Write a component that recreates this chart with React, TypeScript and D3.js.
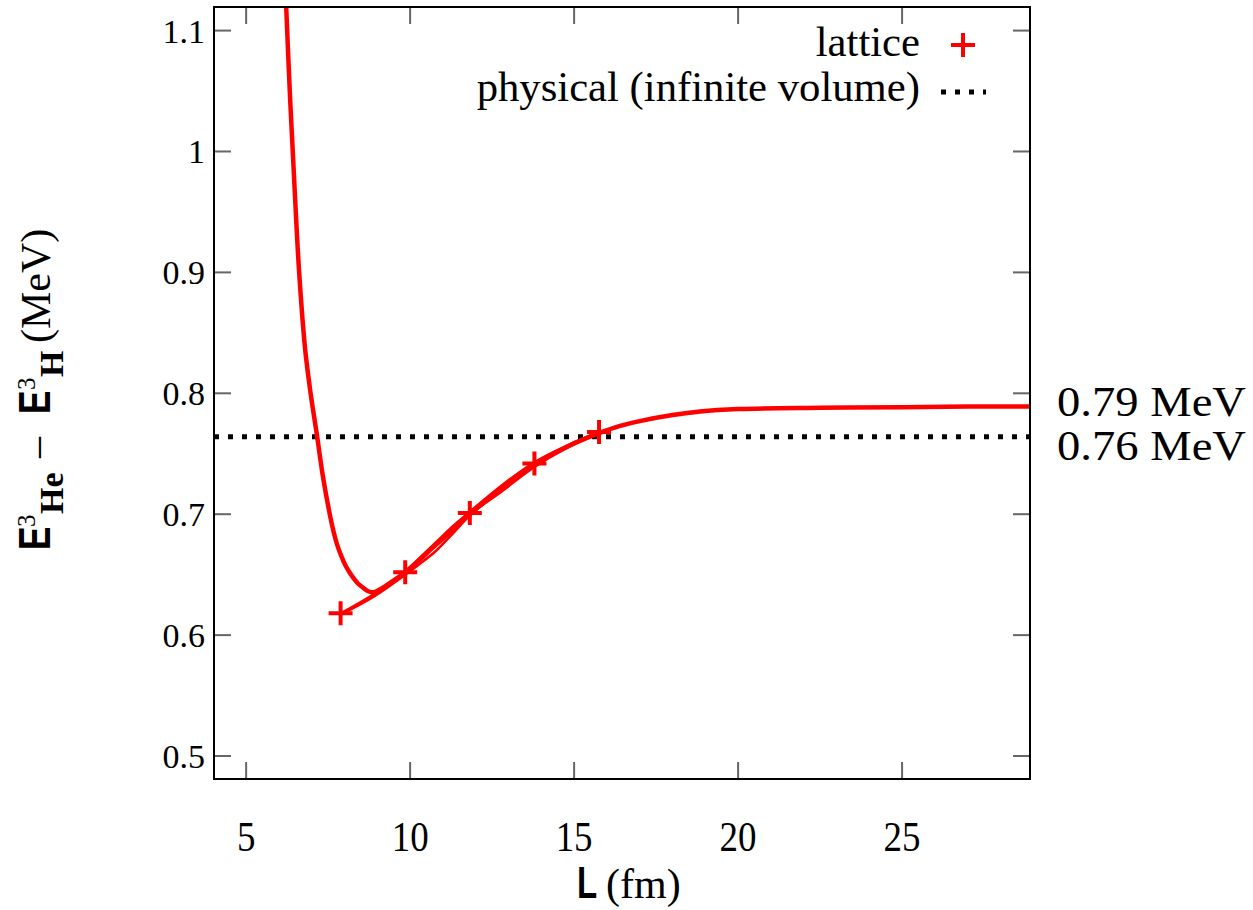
import React from "react";
import * as d3 from "d3";

// ---- data ----
const xTicks = [5, 10, 15, 20, 25];
const yTicks = [0.5, 0.6, 0.7, 0.8, 0.9, 1, 1.1];

// lattice results (L in fm, E in MeV)
const latticeL = [7.88, 9.85, 11.82, 13.79, 15.76];
const latticeE = [0.618, 0.652, 0.701, 0.742, 0.768];

// main fit curve (finite-volume fit)
const fitL = [6.18, 6.22, 6.341, 6.418, 6.494, 6.616, 6.799, 6.966, 7.165, 7.332, 7.546, 7.652, 7.774, 7.896, 8.018, 8.14, 8.262, 8.415, 8.567, 8.72, 8.902, 9.116, 9.39, 9.848, 10.8, 11.82, 12.8, 13.79, 14.8, 15.76, 16.4, 17.0, 18.0, 18.84, 20.0, 22.5, 25.0, 27.0, 29.0];
const fitE = [1.15, 1.1205, 1.0435, 1.002, 0.9605, 0.9002, 0.8364, 0.7999, 0.7643, 0.7328, 0.7005, 0.6872, 0.6748, 0.6657, 0.6582, 0.6524, 0.6475, 0.6425, 0.6392, 0.6363, 0.6355, 0.6384, 0.6433, 0.652, 0.675, 0.700, 0.722, 0.741, 0.756, 0.767, 0.773, 0.777, 0.782, 0.785, 0.787, 0.788, 0.7885, 0.789, 0.789];

// thinner fit lines through the lattice points
const bandL = [7.88, 8.9, 9.85, 10.3, 10.8, 11.3, 11.82, 12.8, 13.79, 14.8, 15.76];
const bandE1 = [0.618, 0.634, 0.652, 0.664, 0.677, 0.690, 0.702, 0.724, 0.743, 0.757, 0.768];
const bandE2 = [0.617, 0.632, 0.650, 0.659, 0.670, 0.684, 0.699, 0.719, 0.739, 0.755, 0.767];

const physicalE = 0.764;
const asymptoteLabels = ["0.79 MeV", "0.76 MeV"];

// ---- layout ----
const W = 1253, H = 910;
const left = 214, right = 1030, top = 7, bottom = 779;

const x = d3.scaleLinear().domain([4.02, 28.9]).range([left, right]);
const y = d3.scaleLinear().domain([0.481, 1.1195]).range([bottom, top]);

const RED = "#ff0000";
const SERIF = "'Liberation Serif', 'Times New Roman', serif";
const SANS = "'Liberation Sans', Arial, sans-serif";

function linePath(ls: number[], es: number[], curve: d3.CurveFactory) {
  const pts = ls.map((l, i) => [l, es[i]] as [number, number]);
  return d3
    .line<[number, number]>()
    .x((d) => x(d[0]))
    .y((d) => y(d[1]))
    .curve(curve)(pts) as string;
}

function Plus({ cx, cy, s = 12 }: { cx: number; cy: number; s?: number }) {
  return (
    <path
      d={`M${cx - s},${cy}H${cx + s}M${cx},${cy - s}V${cy + s}`}
      stroke={RED}
      strokeWidth={4}
      fill="none"
    />
  );
}

export default function App() {
  const tickLen = 17;
  return (
    <svg
      width={W}
      height={H}
      style={{ position: "absolute", left: 0, top: 0, background: "#fff" }}
    >
      <defs>
        <clipPath id="plot">
          <rect x={left} y={top} width={right - left} height={bottom - top} />
        </clipPath>
      </defs>

      {/* ticks (mirrored, inward) */}
      <g stroke="#666" strokeWidth={2}>
        {xTicks.map((t) => (
          <g key={"x" + t}>
            <line x1={x(t)} x2={x(t)} y1={bottom} y2={bottom - tickLen} />
            <line x1={x(t)} x2={x(t)} y1={top} y2={top + tickLen} />
          </g>
        ))}
        {yTicks.map((t) => (
          <g key={"y" + t}>
            <line x1={left} x2={left + tickLen} y1={y(t)} y2={y(t)} />
            <line x1={right} x2={right - tickLen} y1={y(t)} y2={y(t)} />
          </g>
        ))}
      </g>

      {/* tick labels */}
      <g fontFamily={SERIF} fill="#000">
        {xTicks.map((t) => (
          <text
            key={"xl" + t}
            transform={`translate(${x(t)},851) scale(0.86,1)`}
            fontSize={43}
            textAnchor="middle"
          >
            {t}
          </text>
        ))}
        {yTicks.map((t) => (
          <text key={"yl" + t} x={205} y={y(t) + 12} fontSize={34} textAnchor="end">
            {t}
          </text>
        ))}
      </g>

      {/* data */}
      <g clipPath="url(#plot)">
        <line
          x1={left}
          x2={right}
          y1={y(physicalE)}
          y2={y(physicalE)}
          stroke="#000"
          strokeWidth={5}
          strokeDasharray="5 9"
        />
        <path d={linePath(bandL, bandE1, d3.curveMonotoneX)} stroke={RED} strokeWidth={2.5} fill="none" />
        <path d={linePath(bandL, bandE2, d3.curveMonotoneX)} stroke={RED} strokeWidth={2.5} fill="none" />
        <path d={linePath(fitL, fitE, d3.curveCatmullRom.alpha(0.5))} stroke={RED} strokeWidth={4.5} fill="none" />
        {latticeL.map((l, i) => (
          <Plus key={"p" + i} cx={x(l)} cy={y(latticeE[i])} />
        ))}
      </g>

      {/* frame */}
      <rect
        x={left}
        y={top}
        width={right - left}
        height={bottom - top}
        fill="none"
        stroke="#000"
        strokeWidth={2}
      />

      {/* legend */}
      <g fontFamily={SERIF} fontSize={42.7} fill="#000">
        <text x={920} y={56} textAnchor="end">lattice</text>
        <text x={920} y={101} textAnchor="end">physical (infinite volume)</text>
      </g>
      <Plus cx={963} cy={45} />
      <line x1={941} x2={986} y1={92} y2={92} stroke="#000" strokeWidth={5} strokeDasharray="5 9" />

      {/* asymptote labels */}
      <g fontFamily={SERIF} fontSize={42} fill="#000">
        <text x={1057} y={416} textLength={189} lengthAdjust="spacingAndGlyphs">{asymptoteLabels[0]}</text>
        <text x={1057} y={460} textLength={189} lengthAdjust="spacingAndGlyphs">{asymptoteLabels[1]}</text>
      </g>

      {/* x axis label */}
      <text transform="translate(577,898) scale(0.75,1)" fontFamily={SANS} fontWeight="bold" fontSize={44} fill="#000">L</text>
      <text x={606} y={898} fontFamily={SERIF} fontSize={42} fill="#000">(fm)</text>

      {/* y axis label */}
      <g transform="translate(50,550) rotate(-90)" fill="#000">
        <text transform="scale(0.8,1)" fontFamily={SANS} fontWeight="bold" fontSize={44}>E</text>
        <text x={23} y={-15} fontFamily={SERIF} fontSize={25}>3</text>
        <text x={36} y={13} fontFamily={SERIF} fontWeight="bold" fontSize={34}>He</text>
        <text x={92} y={0} fontFamily={SERIF} fontSize={42}>–</text>
        <text transform="translate(136,0) scale(0.8,1)" fontFamily={SANS} fontWeight="bold" fontSize={44}>E</text>
        <text x={160} y={-15} fontFamily={SERIF} fontSize={25}>3</text>
        <text x={173} y={13} fontFamily={SERIF} fontWeight="bold" fontSize={34}>H</text>
        <text x={207} y={0} fontFamily={SERIF} fontSize={42}>(MeV)</text>
      </g>
    </svg>
  );
}
